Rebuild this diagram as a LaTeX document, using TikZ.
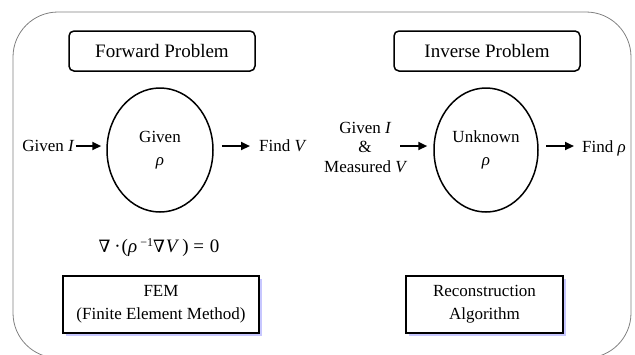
\documentclass[tikz,border=0pt]{standalone}
\usepackage{fontspec}
\setmainfont{Liberation Serif}
\newfontfamily\opfont{DejaVu Serif}
\usetikzlibrary{shapes.geometric,arrows.meta}
\tikzset{
  frame/.style={draw=black!50, line width=0.8pt, rounded corners=45pt},
  titlebox/.style={draw=black, line width=1.5pt, rounded corners=5pt, minimum width=186pt, minimum height=40pt, inner sep=0pt, font=\fontsize{19}{22}\selectfont},
  region/.style={draw=black, ellipse, line width=1.5pt, minimum width=106pt, minimum height=124pt, inner sep=0pt, align=center, font=\fontsize{17}{23}\selectfont},
  lbl/.style={align=center, inner sep=0pt, font=\fontsize{17}{19}\selectfont},
  methodbox/.style={draw=black, line width=1.2pt, fill=white, minimum height=57pt, inner sep=0pt, align=center, font=\fontsize{17}{23}\selectfont},
  shadowbox/.style={fill=blue!22!white, draw=none},
  flow/.style={line width=2.2pt, -{Triangle[length=9pt,width=8pt]}}
}
\newcommand{\nablaop}{{\opfont\fontsize{17}{20}\selectfont ∇}}
\begin{document}
\begin{tikzpicture}[x=1pt,y=-1pt]
\useasboundingbox (0,0) rectangle (635,354);
% outer frame, its lower edge runs off the bottom
\draw[frame] (13,12) rectangle (631,358);

% headings
\node[titlebox] (fwd) at (162,51) {Forward Problem};
\node[titlebox] (inv) at (487,51) {Inverse Problem};

% domains
\node[region] (fdom) at (160,150) {Given\\\itshape ρ};
\node[region, minimum width=104pt] (idom) at (486,150) {Unknown\\\itshape ρ};

% forward problem inputs and outputs
\node[lbl] (gin) at (48,146) {Given \itshape I};
\node[lbl, anchor=west] (fv) at (259,146) {Find \itshape V};
\draw[flow, shorten <=2pt, shorten >=5pt] (gin.east) -- (gin.east -| fdom.west);
\draw[flow, shorten <=8pt, shorten >=9pt] (fdom.east |- fv.west) -- (fv.west);

% inverse problem inputs and outputs
\node[lbl, font=\fontsize{17}{19.5}\selectfont] (gim) at (365,147) {Given \itshape I\\\&\\Measured \itshape V};
\node[lbl, anchor=west] (frho) at (582,148) {Find \itshape ρ};
\coordinate (giA) at (400,146);
\coordinate (ioA) at (546,146);
\draw[flow, shorten >=6pt] (giA) -- (giA -| idom.west);
\draw[flow, shorten >=8pt] (ioA) -- (ioA -| frho.west);

% governing equation
\node[font=\fontsize{19}{22}\selectfont] (eq) at (159,248)
  {\nablaop\hspace{4pt}·\hspace{1pt}(\textit{ρ}\,\raisebox{6pt}{\fontsize{12}{13}\selectfont −1}\nablaop\hspace{1pt}\textit{V}\hspace{3pt}) = \hspace{1pt}0};

% methods
\fill[shadowbox] (66,279) rectangle (262,336);
\node[methodbox, minimum width=196pt] (fem) at (161,304.5) {FEM\\(Finite Element Method)};
\fill[shadowbox] (409,279) rectangle (566,336);
\node[methodbox, minimum width=157pt] (rec) at (484.5,304.5) {Reconstruction\\Algorithm};
\end{tikzpicture}
\end{document}
